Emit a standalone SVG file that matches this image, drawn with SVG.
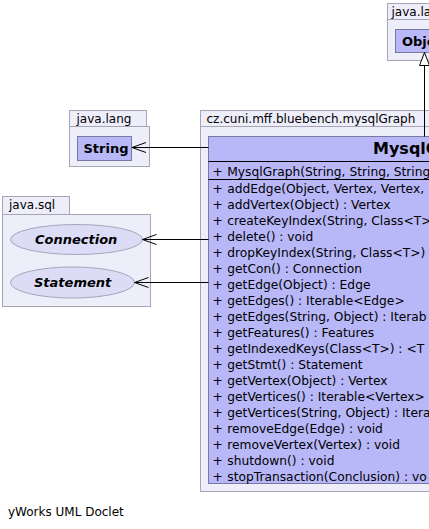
<svg xmlns="http://www.w3.org/2000/svg" width="429" height="529" viewBox="0 0 429 529">
<style>
.pkg{fill:#EEEEFB;stroke:#A5A5B5;stroke-width:1}
.cls{fill:#B8B8F9;stroke:#7878A0;stroke-width:1}
.ell{fill:#DCDCF7;stroke:#A5A5B8;stroke-width:1}
.sep{stroke:#000;stroke-width:1}
.t{font-family:"DejaVu Sans",sans-serif;fill:#000}
.tab{font-size:12px}
.row{font-size:12.25px}
.title{font-size:16px;font-weight:bold}
.nm{font-size:13px;font-weight:bold}
.nmi{font-size:13px;font-weight:bold;font-style:italic}
.edge{stroke:#000;stroke-width:1;fill:none}
</style>
<defs>
<marker id="open" viewBox="-15 -6 16 12" refX="0" refY="0" markerWidth="16" markerHeight="12" markerUnits="userSpaceOnUse" orient="auto">
<path d="M-14,-5 L0,0 L-14,5" fill="none" stroke="#000" stroke-width="1"/>
</marker>
<marker id="gen" viewBox="-15 -7 16 14" refX="0" refY="0" markerWidth="16" markerHeight="14" markerUnits="userSpaceOnUse" orient="auto">
<path d="M0,0 L-13,-5 L-13,5 Z" fill="#fff" stroke="#000" stroke-width="1"/>
</marker>
</defs>
<rect width="429" height="529" fill="#fff"/>

<g id="pkg-java-lang-object">
<rect class="pkg" x="387.5" y="3.5" width="80" height="16"/>
<rect class="pkg" x="387.5" y="19.5" width="80" height="41"/>
<text class="t tab" x="391.5" y="15.5">java.lang</text>
</g>
<g id="node-object">
<rect class="cls" x="395.5" y="29.5" width="70" height="23"/>
<text class="t nm" x="402" y="45.5">Object</text>
</g>

<g id="pkg-java-lang">
<rect class="pkg" x="69.5" y="110.5" width="77" height="16"/>
<rect class="pkg" x="69.5" y="126.5" width="80" height="40"/>
<text class="t tab" x="76.5" y="122.5">java.lang</text>
</g>
<g id="node-string">
<rect class="cls" x="77.5" y="136.5" width="54" height="24"/>
<text class="t nm" x="83.5" y="152.5">String</text>
</g>

<g id="pkg-java-sql">
<rect class="pkg" x="2.5" y="196.5" width="67" height="18"/>
<rect class="pkg" x="2.5" y="214.5" width="148" height="92"/>
<text class="t tab" x="9" y="208.5">java.sql</text>
</g>
<g id="node-connection">
<ellipse class="ell" cx="76.5" cy="239.5" rx="66" ry="15"/>
<text class="t nmi" x="35" y="244">Connection</text>
</g>
<g id="node-statement">
<ellipse class="ell" cx="72.5" cy="282.5" rx="62" ry="15.5"/>
<text class="t nmi" x="34" y="287">Statement</text>
</g>

<g id="pkg-mysqlgraph">
<rect class="pkg" x="200.5" y="110.5" width="260" height="16"/>
<rect class="pkg" x="200.5" y="126.5" width="460" height="365"/>
<text class="t tab" x="206.5" y="122.5">cz.cuni.mff.bluebench.mysqlGraph</text>
</g>

<g id="node-mysqlgraph">
<rect class="cls" x="208.5" y="136.5" width="440" height="347"/>
<line class="sep" x1="208.5" y1="161.5" x2="648.5" y2="161.5"/>
<line class="sep" x1="208.5" y1="179.5" x2="648.5" y2="179.5"/>
<text class="t title" x="373" y="154">MysqlGraph</text>
<g class="t row">
<text y="175.5"><tspan x="212.5">+</tspan><tspan x="227.3">MysqlGraph(String, String, String</tspan></text>
<text y="192.5"><tspan x="212.5">+</tspan><tspan x="227.3">addEdge(Object, Vertex, Vertex,</tspan></text>
<text y="208.5"><tspan x="212.5">+</tspan><tspan x="227.3">addVertex(Object) : Vertex</tspan></text>
<text y="224.5"><tspan x="212.5">+</tspan><tspan x="227.3">createKeyIndex(String, Class&lt;T&gt;</tspan></text>
<text y="240.5"><tspan x="212.5">+</tspan><tspan x="227.3">delete() : void</tspan></text>
<text y="256.5"><tspan x="212.5">+</tspan><tspan x="227.3">dropKeyIndex(String, Class&lt;T&gt;)</tspan></text>
<text y="272.5"><tspan x="212.5">+</tspan><tspan x="227.3">getCon() : Connection</tspan></text>
<text y="288.5"><tspan x="212.5">+</tspan><tspan x="227.3">getEdge(Object) : Edge</tspan></text>
<text y="304.5"><tspan x="212.5">+</tspan><tspan x="227.3">getEdges() : Iterable&lt;Edge&gt;</tspan></text>
<text y="320.5"><tspan x="212.5">+</tspan><tspan x="227.3">getEdges(String, Object) : Iterab</tspan></text>
<text y="336.5"><tspan x="212.5">+</tspan><tspan x="227.3">getFeatures() : Features</tspan></text>
<text y="352.5"><tspan x="212.5">+</tspan><tspan x="227.3">getIndexedKeys(Class&lt;T&gt;) : &lt;T</tspan></text>
<text y="368.5"><tspan x="212.5">+</tspan><tspan x="227.3">getStmt() : Statement</tspan></text>
<text y="384.5"><tspan x="212.5">+</tspan><tspan x="227.3">getVertex(Object) : Vertex</tspan></text>
<text y="400.5"><tspan x="212.5">+</tspan><tspan x="227.3">getVertices() : Iterable&lt;Vertex&gt;</tspan></text>
<text y="416.5"><tspan x="212.5">+</tspan><tspan x="227.3">getVertices(String, Object) : Itera</tspan></text>
<text y="432.5"><tspan x="212.5">+</tspan><tspan x="227.3">removeEdge(Edge) : void</tspan></text>
<text y="448.5"><tspan x="212.5">+</tspan><tspan x="227.3">removeVertex(Vertex) : void</tspan></text>
<text y="464.5"><tspan x="212.5">+</tspan><tspan x="227.3">shutdown() : void</tspan></text>
<text y="480.5"><tspan x="212.5">+</tspan><tspan x="227.3">stopTransaction(Conclusion) : vo</tspan></text>
</g>
</g>

<g id="connectors">
<line class="edge" x1="424.5" y1="136.5" x2="424.5" y2="52.5" marker-end="url(#gen)"/>
<line class="edge" x1="208.5" y1="147.5" x2="132" y2="147.5" marker-end="url(#open)"/>
<line class="edge" x1="208.5" y1="239.5" x2="142.5" y2="239.5" marker-end="url(#open)"/>
<line class="edge" x1="208.5" y1="282.5" x2="134.5" y2="282.5" marker-end="url(#open)"/>
</g>

<text class="t tab" x="8" y="516">yWorks UML Doclet</text>
</svg>
